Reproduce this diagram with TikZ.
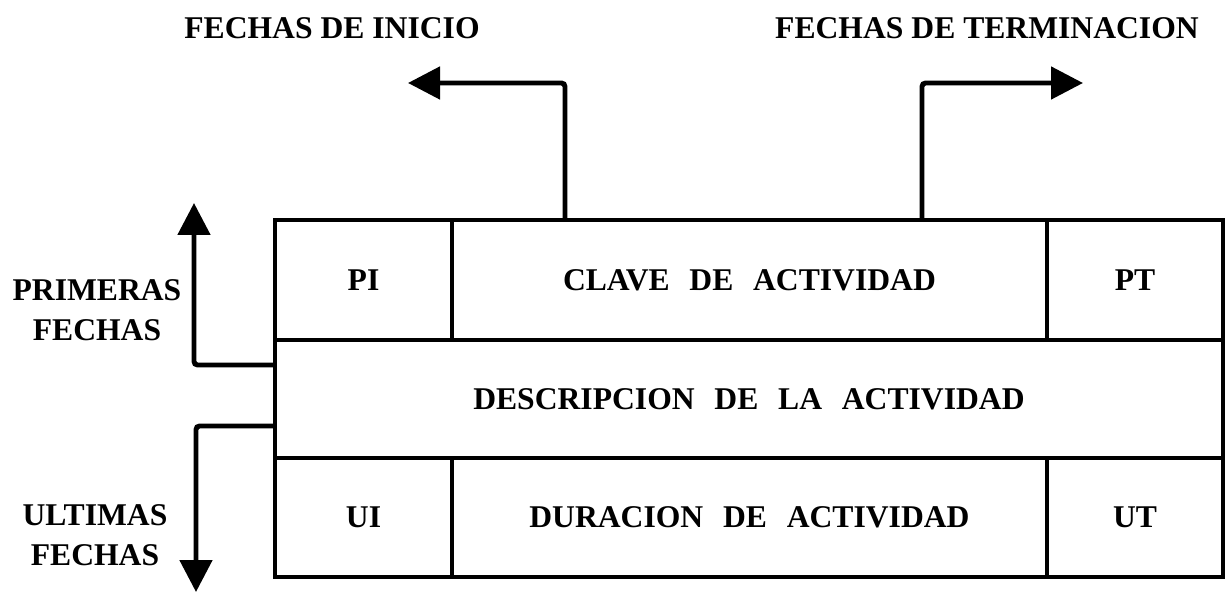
\documentclass[tikz,border=0pt]{standalone}
\usepackage{fontspec}
\setmainfont{Liberation Serif}
\newfontfamily\cellfont{Liberation Serif}[WordSpace=2.5]
\usepackage{tikz}
\usetikzlibrary{arrows.meta,positioning,calc}

\begin{document}
\begin{tikzpicture}[
    cell/.style={rectangle, draw, line width=2.8pt, outer sep=0pt, inner sep=0pt, font=\cellfont\bfseries\fontsize{18}{22}\selectfont},
    label/.style={align=center, font=\bfseries\fontsize{18}{23}\selectfont},
    flecha/.style={line width=2.8pt, rounded corners=2pt, -{Triangle[length=0.64cm, width=0.64cm]}}]
    \useasboundingbox (-5.5,4.4) rectangle (19.04,-7.44);

    % Top row
    \node (pi) [cell, anchor=north west, minimum width=3.54cm, minimum height=2.4cm] at (0,0) {PI};
    \node (clave) [cell, right=0cm of pi, minimum width=11.9cm, minimum height=2.4cm] {CLAVE DE ACTIVIDAD};
    \node (pt) [cell, right=0cm of clave, minimum width=3.52cm, minimum height=2.4cm] {PT};

    % Middle row
    \node (desc) [cell, anchor=north west, minimum width=18.96cm, minimum height=2.36cm] at (pi.south west) {DESCRIPCION DE LA ACTIVIDAD};

    % Bottom row
    \node (ui) [cell, anchor=north west, minimum width=3.54cm, minimum height=2.38cm] at (desc.south west) {UI};
    \node (dur) [cell, right=0cm of ui, minimum width=11.9cm, minimum height=2.38cm] {DURACION DE ACTIVIDAD};
    \node (ut) [cell, right=0cm of dur, minimum width=3.52cm, minimum height=2.38cm] {UT};

    % Labels
    \node (inicio) [label] at (1.14,3.84) {FECHAS DE INICIO};
    \node (terminacion) [label] at (14.24,3.84) {FECHAS DE TERMINACION};
    \node (primeras) [label] at (-3.56,-1.8) {PRIMERAS\\FECHAS};
    \node (ultimas) [label] at (-3.6,-6.3) {ULTIMAS\\FECHAS};

    % Arrow ends
    \coordinate (ini) at (2.66,2.74);
    \coordinate (fin) at (16.16,2.74);
    \coordinate (prim) at (-1.62,0.34);
    \coordinate (ult) at (-1.58,-7.44);

    % Arrows
    \draw [flecha] ($(clave.north west)+(2.26,0)$) |- (ini);
    \draw [flecha] ($(clave.north east)+(-2.5,0)$) |- (fin);
    \draw [flecha] ($(desc.north west)+(0,-0.5)$) -| (prim);
    \draw [flecha] ($(desc.south west)+(0,0.64)$) -| (ult);
\end{tikzpicture}
\end{document}
